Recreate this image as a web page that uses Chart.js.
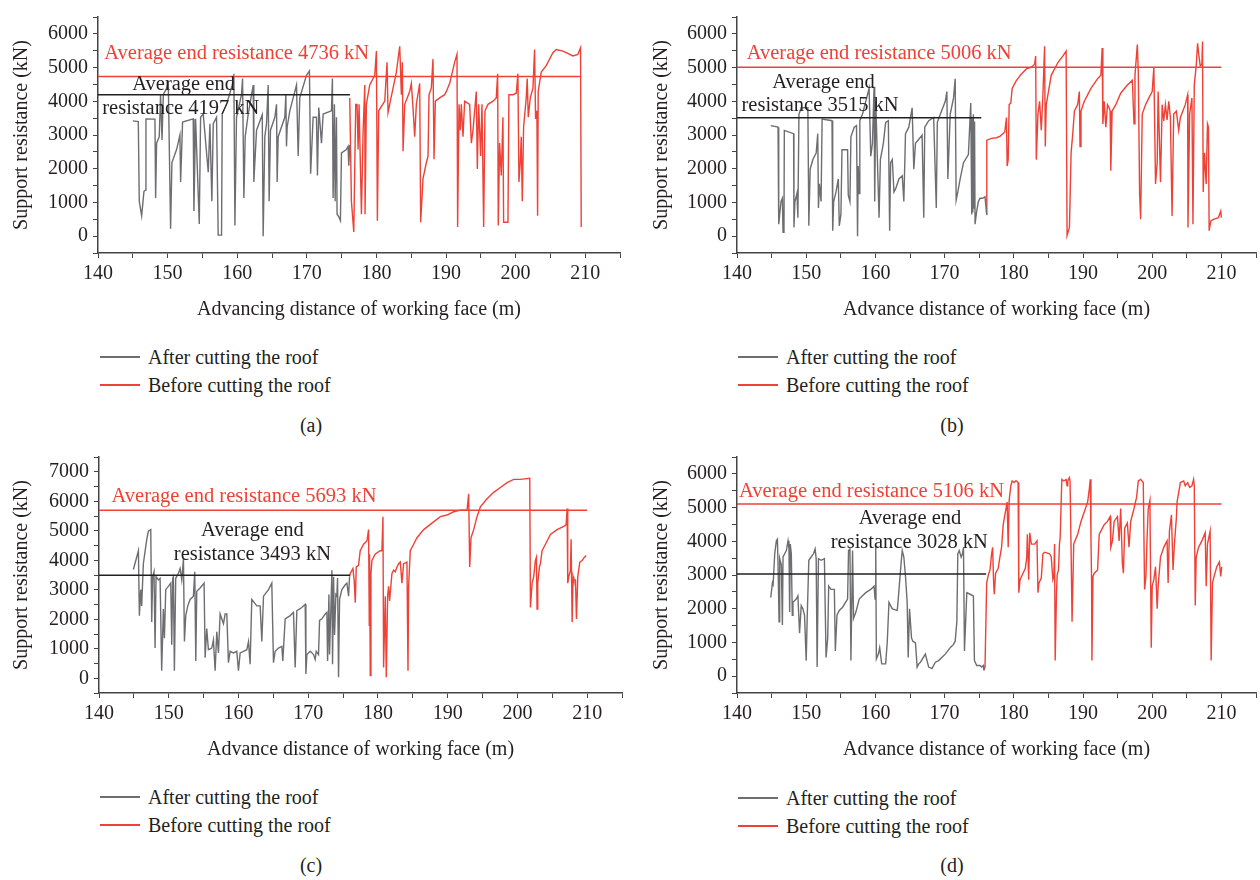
<!DOCTYPE html>
<html>
<head>
<meta charset="utf-8">
<script src="https://cdn.jsdelivr.net/npm/chart.js@4.4.1/dist/chart.umd.min.js"></script>
<style>
  body { margin: 0; background: #fff; width: 1260px; height: 880px; position: relative; overflow: hidden;
         font-family: "Liberation Serif", "DejaVu Serif", serif; color: #231f20; }
  .box { position: absolute; }
  .legend { position: absolute; font-size: 20px; }
  .legend div { position: relative; height: 28px; line-height: 28px; padding-left: 48px; white-space: nowrap; }
  .legend span { position: absolute; left: 0; top: 13px; width: 40px; height: 2px; }
  .after span { background: #6d6e71; }
  .before span { background: #ef4136; }
  .cap { position: absolute; font-size: 20px; line-height: 24px; transform: translateX(-50%); }
</style>
</head>
<body>

<div class="box" style="left:0;top:0;width:630px;height:330px"><canvas id="chartA"></canvas></div>
<div class="box" style="left:640px;top:0;width:620px;height:330px"><canvas id="chartB"></canvas></div>
<div class="box" style="left:0;top:440px;width:630px;height:330px"><canvas id="chartC"></canvas></div>
<div class="box" style="left:640px;top:440px;width:620px;height:330px"><canvas id="chartD"></canvas></div>

<div class="legend" style="left:100px;top:343px"><div class="after"><span></span>After cutting the roof</div><div class="before"><span></span>Before cutting the roof</div></div>
<div class="legend" style="left:738px;top:343px"><div class="after"><span></span>After cutting the roof</div><div class="before"><span></span>Before cutting the roof</div></div>
<div class="legend" style="left:100px;top:783px"><div class="after"><span></span>After cutting the roof</div><div class="before"><span></span>Before cutting the roof</div></div>
<div class="legend" style="left:738px;top:784px"><div class="after"><span></span>After cutting the roof</div><div class="before"><span></span>Before cutting the roof</div></div>

<div class="cap" style="left:311px;top:413px">(a)</div>
<div class="cap" style="left:952px;top:413px">(b)</div>
<div class="cap" style="left:311px;top:853px">(c)</div>
<div class="cap" style="left:952px;top:853px">(d)</div>

<script>
// support resistance [advance distance (m), resistance (kN)]
const aAfter = [[145.0,3420],[145.79,3400],[145.93,1035],[146.27,604],[146.6,1322],[146.84,1370],[146.89,3478],[148.18,3470],[148.28,1130],[148.42,2759],[148.8,2951],[148.99,4196],[149.2,2850],[149.38,4196],[149.86,4388],[150.1,4531],[150.43,220],[150.62,2184],[151.29,2567],[151.77,2999],[151.87,1609],[152.01,2472],[152.15,3382],[153.68,3478],[153.78,747],[154.02,3478],[154.55,364],[154.74,3525],[155.12,3621],[155.84,1897],[156.08,3334],[156.36,1035],[156.56,3334],[157.03,3525],[157.27,29],[157.75,29],[157.85,3621],[158.47,3909],[159.43,4579],[159.52,4819],[159.67,316],[159.9,3525],[160.62,4196],[160.77,4675],[160.96,1130],[161.15,2951],[161.58,3621],[162.3,4483],[162.39,1609],[162.78,3142],[163.6,3600],[163.73,0],[163.97,2951],[164.21,3334],[164.45,4483],[164.59,1035],[164.78,3142],[165.41,3525],[165.65,3909],[165.74,1609],[165.89,2951],[166.84,3525],[166.99,4196],[167.08,2663],[167.18,3238],[167.56,3717],[168.04,4100],[168.52,4483],[168.76,2376],[168.99,4100],[169.95,4771],[170.38,4900],[170.55,1850],[170.91,3525],[171.39,3525],[171.53,1801],[171.72,3813],[172.11,2759],[172.35,3621],[173.54,3717],[173.68,4675],[173.78,1130],[173.97,3909],[174.07,1035],[174.26,3525],[174.35,651],[174.64,556],[174.83,460],[174.98,2472],[175.69,2567],[175.93,2663],[176.03,2088],[176.17,2700]];
const aBefore = [[176.17,4100],[176.41,1035],[176.75,125],[177.03,3909],[177.22,3909],[177.37,2567],[177.51,3909],[177.85,651],[178.09,3100],[178.33,4483],[178.37,651],[178.56,3909],[179.04,4483],[179.76,4771],[180.0,5489],[180.14,460],[180.33,3717],[181.2,4004],[181.53,5154],[181.67,3669],[182.39,4388],[182.87,4867],[183.35,5633],[183.59,4196],[183.73,5154],[183.83,2520],[184.07,3909],[184.78,4292],[185.02,4531],[185.26,3813],[185.5,2951],[185.74,3909],[186.22,4531],[186.36,412],[186.7,1705],[187.18,2184],[187.42,2376],[187.56,4196],[187.89,4388],[188.13,5250],[188.28,2280],[188.47,4004],[189.09,4100],[189.81,4196],[190.05,4292],[190.53,4531],[191.24,5154],[191.58,5393],[191.67,268],[191.87,3909],[192.06,3142],[192.2,3909],[192.44,2951],[192.68,4004],[193.4,3909],[193.64,2759],[193.88,3142],[194.35,4292],[194.5,1993],[194.69,3909],[194.98,2376],[195.17,3909],[195.41,268],[195.6,3717],[196.03,3909],[196.75,4004],[197.22,4100],[197.42,4819],[197.51,316],[197.7,2759],[197.94,1801],[198.18,3525],[198.28,412],[198.9,412],[199.04,4196],[199.62,4196],[200.1,4240],[200.33,4819],[200.48,1609],[200.67,2184],[200.81,2951],[200.96,1035],[201.15,3238],[201.53,4100],[201.67,4675],[201.82,3525],[202.11,4100],[202.49,4388],[202.73,5537],[202.87,3478],[203.06,3717],[203.16,604],[203.25,4292],[203.68,4867],[204.4,5058],[205.36,5441],[205.84,5537],[206.79,5489],[207.27,5441],[208.23,5346],[208.95,5393],[209.33,5585],[209.43,268]];

const bAfter = [[144.88,3280],[145.93,3232],[146.03,355],[146.17,643],[146.36,1026],[146.56,1122],[146.65,115],[146.79,163],[146.84,3136],[148.18,3040],[148.23,259],[148.37,1026],[148.66,1266],[148.8,547],[148.95,3615],[149.28,3807],[150.24,3807],[150.38,307],[150.57,1985],[150.96,2273],[151.44,2465],[151.67,3040],[151.77,834],[151.91,1554],[152.15,1026],[152.3,3472],[153.73,3424],[153.83,163],[153.97,1026],[154.31,1310],[154.64,1697],[154.78,307],[155.02,643],[155.17,2561],[155.98,2561],[156.08,1218],[156.32,1026],[156.46,2944],[156.94,3232],[157.27,3280],[157.42,0],[157.51,2081],[157.66,1266],[157.75,3424],[158.13,3615],[158.61,3999],[159.09,4383],[159.33,2369],[159.57,2752],[159.81,4431],[159.9,1026],[160.05,3999],[160.53,547],[160.72,2273],[161.15,2752],[161.48,3376],[161.87,3424],[162.06,163],[162.2,2180],[162.44,2273],[162.68,1310],[162.92,1400],[163.4,1697],[163.88,1793],[164.11,1026],[164.35,3040],[164.83,3232],[165.31,3807],[165.55,1985],[165.79,2752],[166.75,2992],[166.99,547],[167.13,3232],[167.7,3424],[168.42,3520],[168.8,834],[168.95,3376],[169.38,3615],[170.1,3999],[170.33,4287],[170.47,1697],[170.81,3615],[171.29,4100],[171.53,4670],[171.67,1070],[171.91,1310],[172.25,1697],[172.73,2180],[173.44,2420],[173.78,3950],[173.92,640],[174.0,3500],[174.07,700],[174.16,3615],[174.26,830],[174.33,3400],[174.4,355],[174.64,740],[174.88,1026],[175.12,1122],[175.5,1122],[175.84,1170],[176.08,640]];
const bBefore = [[176.08,640],[176.1,2848],[176.79,2900],[177.5,2920],[177.98,2960],[178.7,3090],[178.94,3520],[179.04,2080],[179.19,2270],[179.33,3900],[179.57,3950],[179.76,4380],[180.38,4620],[181.1,4810],[181.82,4960],[182.54,5010],[183.01,5100],[183.16,5340],[183.25,2270],[183.49,3620],[183.73,4000],[183.97,3140],[184.21,4190],[184.45,5630],[184.55,2660],[184.69,3900],[185.41,4770],[186.37,5150],[187.08,5340],[187.56,5490],[187.7,20],[188.04,260],[188.28,2470],[188.52,3040],[188.76,3710],[189.0,3810],[189.23,3900],[189.47,4290],[189.57,2660],[189.71,3710],[190.19,4000],[191.15,4380],[192.11,4670],[192.58,4770],[192.77,5580],[192.87,3330],[193.06,4000],[193.3,3230],[193.54,3900],[193.78,3810],[193.92,3710],[194.02,1940],[194.21,3710],[194.74,3900],[195.45,4240],[196.41,4480],[197.13,4620],[197.37,3330],[197.51,4770],[197.85,5680],[197.99,4860],[198.18,1270],[198.33,500],[198.56,3620],[199.04,3900],[199.52,4100],[200.0,4290],[200.24,5010],[200.48,1550],[200.72,2180],[200.86,4290],[201.2,1600],[201.44,3900],[201.67,3420],[201.91,3900],[202.15,3450],[202.39,4000],[202.63,3520],[202.87,600],[203.11,3620],[203.49,3710],[203.83,3140],[204.07,3520],[204.78,3900],[205.12,4190],[205.17,260],[205.41,3620],[205.74,4100],[205.89,355],[206.08,4480],[206.36,5050],[206.56,5720],[206.7,5440],[206.94,5050],[207.18,5100],[207.27,5770],[207.37,1310],[207.56,2470],[207.8,1550],[207.99,3330],[208.13,3230],[208.23,160],[208.47,450],[208.85,500],[209.57,550],[209.9,740],[210.0,550]];

const cAfter = [[144.93,3685],[145.65,4323],[145.79,2123],[145.98,3003],[146.12,2453],[146.36,3883],[146.84,4700],[147.08,4983],[147.42,5038],[147.56,1903],[147.7,3443],[147.89,3608],[148.04,1023],[148.18,3443],[148.52,3333],[148.76,3388],[148.99,253],[149.23,2343],[149.38,1353],[149.57,3003],[149.95,3113],[150.29,3223],[150.43,1133],[150.57,3388],[150.67,3443],[150.81,253],[151.0,3388],[151.39,3553],[151.63,3718],[151.87,3333],[152.11,4048],[152.25,1243],[152.44,2123],[152.73,2453],[153.06,2673],[153.54,2783],[153.73,3608],[153.88,583],[154.02,2948],[154.5,3058],[155.07,3223],[155.22,693],[155.45,1683],[155.69,968],[156.17,1023],[156.41,1298],[156.65,253],[156.89,1573],[157.13,858],[157.37,2178],[157.85,1848],[158.09,2178],[158.33,2178],[158.56,528],[158.8,913],[159.28,858],[159.76,913],[160.0,253],[160.24,858],[160.72,913],[161.2,968],[161.44,1243],[161.67,473],[161.91,2673],[162.63,2453],[163.11,2453],[163.35,1243],[163.59,2783],[164.31,3003],[164.78,3223],[165.02,528],[165.26,913],[165.74,1023],[166.22,1078],[166.36,583],[166.7,2013],[167.42,2123],[167.89,2233],[168.13,363],[168.37,2288],[169.09,2398],[169.57,2508],[169.67,143],[169.81,803],[170.29,913],[170.77,803],[171.0,638],[171.15,913],[171.48,803],[171.63,1958],[171.96,2013],[172.44,2178],[172.68,2233],[172.78,583],[172.97,2838],[173.06,803],[173.25,2343],[173.4,3663],[173.49,473],[173.64,3443],[173.78,1463],[173.97,2838],[174.11,2783],[174.21,3400],[174.35,33],[174.5,2673],[174.83,3003],[175.31,3168],[175.55,3223],[175.79,2783],[175.93,3443]];
const cBefore = [[175.93,3443],[176.03,3553],[176.41,3718],[176.6,3300],[176.75,2563],[176.89,3773],[177.22,3828],[177.46,4323],[177.94,4543],[178.42,4653],[178.66,5038],[178.76,1793],[178.8,4200],[178.9,88],[179.0,3553],[179.14,3993],[179.62,4213],[180.33,4323],[180.57,4323],[180.72,5478],[180.81,363],[181.05,2783],[181.2,33],[181.39,2783],[181.53,3113],[181.67,2618],[182.01,3553],[182.25,3663],[182.49,3608],[182.73,3773],[182.97,3883],[183.21,3938],[183.44,3223],[183.68,3883],[184.16,3938],[184.31,253],[184.4,3113],[184.64,4323],[185.12,4543],[185.6,4763],[186.56,5038],[187.75,5258],[188.95,5478],[189.9,5533],[190.86,5643],[191.82,5698],[192.78,5698],[193.01,6248],[193.16,3773],[193.35,4763],[193.73,5038],[194.21,5478],[194.69,5808],[195.65,6083],[196.6,6303],[197.56,6468],[198.52,6633],[199.47,6743],[200.43,6743],[201.77,6776],[201.87,2398],[202.11,3223],[202.34,3443],[202.58,3993],[202.73,4103],[202.82,2343],[202.92,3223],[203.16,3773],[203.3,3883],[203.54,4323],[204.02,4543],[204.74,4873],[205.69,5038],[206.65,5148],[206.99,5203],[207.13,5753],[207.22,3223],[207.37,3443],[207.61,3663],[207.7,4708],[207.85,1903],[207.99,3443],[208.09,3333],[208.33,3333],[208.47,2013],[208.66,3443],[208.95,3938],[209.28,3993],[209.62,4103],[209.86,4158]];

const dAfter = [[144.88,2333],[145.12,2765],[145.22,2717],[145.45,3629],[145.69,4013],[145.84,4061],[145.93,3341],[146.08,1613],[146.17,3485],[146.41,3293],[146.56,1517],[146.65,3533],[146.89,3629],[147.13,3725],[147.37,4013],[147.51,3773],[147.61,1901],[147.7,3917],[147.85,3629],[147.99,1805],[148.09,2189],[148.56,2285],[148.8,2381],[149.04,1277],[149.28,2093],[149.52,1997],[149.76,1805],[150.0,461],[150.14,1709],[150.38,3437],[150.72,3533],[151.05,3629],[151.29,3773],[151.44,3485],[151.58,269],[151.77,3485],[152.15,3437],[152.63,3485],[152.87,557],[153.11,1133],[153.25,2669],[153.59,2573],[154.07,2573],[154.21,749],[154.45,1805],[154.78,1949],[155.26,2045],[155.98,2285],[156.12,3725],[156.32,3773],[156.46,461],[156.7,3725],[156.84,1709],[157.18,1901],[157.42,2093],[157.66,2285],[158.13,2381],[158.61,2477],[159.33,2573],[159.81,2669],[159.95,2285],[160.05,3821],[160.14,509],[160.43,653],[160.62,845],[160.91,365],[161.48,365],[161.72,1037],[161.96,2189],[162.44,1997],[163.16,1949],[163.3,2285],[163.73,3389],[163.88,3725],[164.11,3533],[164.35,2957],[164.59,2189],[164.74,557],[164.93,1997],[165.22,1133],[165.41,1037],[165.79,989],[166.03,269],[166.27,365],[166.51,413],[167.22,653],[167.7,269],[168.18,221],[168.66,413],[169.14,461],[169.62,557],[170.1,653],[170.81,845],[171.29,941],[171.53,1037],[171.77,1613],[171.91,3629],[172.11,3725],[172.39,3533],[172.58,3629],[172.73,3821],[172.87,749],[173.21,2477],[173.68,2429],[174.16,2381],[174.31,461],[174.64,317],[175.12,317],[175.36,269],[175.6,317],[175.69,173]];
const dBefore = [[175.69,173],[175.84,269],[176.08,2765],[176.32,3005],[176.56,3149],[176.79,3629],[176.94,3821],[177.08,2800],[177.18,2429],[177.37,3053],[177.75,3197],[177.99,3533],[178.23,3821],[178.47,4493],[178.71,4781],[179.04,5165],[179.19,3821],[179.33,5213],[179.57,5645],[179.76,5789],[180.05,5741],[180.24,5789],[180.38,5789],[180.62,5741],[180.72,2477],[180.91,2861],[181.34,3053],[181.67,3197],[181.87,3533],[181.96,4205],[182.15,2861],[182.3,4253],[182.54,3917],[183.01,3917],[183.35,4013],[183.49,2477],[183.64,2765],[183.97,2909],[184.21,3629],[184.45,3677],[185.17,3629],[185.41,3533],[185.65,2861],[185.79,2957],[185.89,3917],[185.98,461],[186.17,2477],[186.27,3005],[186.46,3149],[186.6,3917],[186.7,4109],[186.94,5837],[187.22,5789],[187.56,5837],[187.7,5645],[187.8,5789],[188.04,5885],[188.13,5789],[188.28,3725],[188.42,1613],[188.66,3917],[188.85,4013],[189.23,4205],[189.71,4589],[190.19,4877],[190.67,5165],[190.91,5549],[191.05,5837],[191.15,4109],[191.24,2861],[191.29,461],[191.44,2957],[191.63,3053],[192.11,3149],[192.34,4205],[192.58,4301],[193.06,4493],[193.54,4589],[193.92,4733],[194.02,3821],[194.26,4013],[194.5,4589],[194.98,4733],[195.22,4013],[195.45,4973],[195.69,3341],[195.84,3053],[196.03,4397],[196.41,4541],[196.65,3821],[196.89,4589],[197.37,4973],[197.75,5309],[197.99,5789],[198.33,5837],[198.71,5741],[198.8,5741],[198.9,2573],[199.09,2957],[199.28,4205],[199.43,4973],[199.67,5213],[199.86,845],[200.0,2669],[200.24,2861],[200.48,3245],[200.72,1997],[200.86,2669],[201.2,3533],[201.67,3821],[202.15,4013],[202.3,2765],[202.49,4301],[202.78,4781],[203.01,3149],[203.21,3917],[203.35,4301],[203.49,4685],[203.59,5165],[203.83,5453],[204.07,5741],[204.55,5789],[204.78,5645],[205.12,5741],[205.41,5600],[205.74,5645],[205.98,5837],[206.08,5645],[206.22,2093],[206.36,3533],[206.7,3821],[207.18,4013],[207.66,4253],[207.8,2669],[207.99,3917],[208.37,4301],[208.52,461],[208.71,2765],[208.95,2957],[209.33,3245],[209.71,3389],[209.9,2957],[210.05,3245]];

// average end resistance (kN): [after cutting, before cutting]
const aAvg = [4197, 4736];
const bAvg = [3515, 5006];
const cAvg = [3493, 5693];
const dAvg = [3028, 5106];
// last advance distance each average line reaches
const aAvgEnd = [176.2, 209.4];
const bAvgEnd = [175.3, 210];
const cAvgEnd = [176, 210];
const dAvgEnd = [176, 210];

const xTicks = [140, 150, 160, 170, 180, 190, 200, 210];

const GRAY = '#6d6e71';
const RED = '#ef4136';
const INK = '#231f20';
const FONT = '"Liberation Serif", "DejaVu Serif", serif';

// writes the average-resistance notes inside the plot
const notePlugin = {
  id: 'notes',
  afterDatasetsDraw(chart, args, opts) {
    const { ctx, scales: { x, y } } = chart;
    ctx.save();
    ctx.font = '20.5px ' + FONT;
    ctx.textBaseline = 'alphabetic';
    for (const n of opts.items) {
      ctx.fillStyle = n.color;
      ctx.textAlign = n.align;
      ctx.fillText(n.text, x.getPixelForValue(n.x), y.getPixelForValue(n.y));
    }
    ctx.restore();
  }
};

const pts = arr => arr.map(p => ({ x: p[0], y: p[1] }));

function makeChart(id, p) {
  const notes = [
    { text: 'Average end resistance ' + p.avg[1] + ' kN', x: p.redAt[0], y: p.redAt[1], color: RED, align: 'left' },
    { text: 'Average end', x: p.blackAt[0], y: p.blackAt[1], color: INK, align: 'center' },
    { text: 'resistance ' + p.avg[0] + ' kN', x: p.blackAt[2], y: p.blackAt[3], color: INK, align: 'center' }
  ];
  const line = (data, color, w) => ({
    data, borderColor: color, borderWidth: w, pointRadius: 0, tension: 0, fill: false
  });
  return new Chart(document.getElementById(id), {
    type: 'line',
    data: {
      datasets: [
        line([{ x: 140, y: p.avg[0] }, { x: p.avgEnd[0], y: p.avg[0] }], INK, 1.5),
        line([{ x: 140, y: p.avg[1] }, { x: p.avgEnd[1], y: p.avg[1] }], RED, 1.5),
        line(pts(p.after), GRAY, 1.4),
        line(pts(p.before), RED, 1.4)
      ]
    },
    options: {
      responsive: true,
      maintainAspectRatio: false,
      animation: false,
      layout: { padding: { top: p.top, right: p.right, left: 0, bottom: 0 } },
      plugins: { legend: { display: false }, tooltip: { enabled: false }, notes: { items: notes } },
      scales: {
        x: {
          type: 'linear', min: 140, max: 215,
          border: { display: true, color: '#444', width: 1.5 },
          grid: { drawOnChartArea: false, drawTicks: true, tickLength: 5, tickColor: '#444' },
          ticks: {
            stepSize: 5, autoSkip: false, maxRotation: 0, padding: 4, color: INK,
            font: { family: FONT, size: 20 },
            callback: v => xTicks.includes(v) ? String(v) : ''
          },
          title: { display: true, text: p.xTitle, color: INK, font: { family: FONT, size: 20 }, padding: { top: 0, bottom: 8 } },
          afterFit: s => { s.height = 77; }
        },
        y: {
          min: -500, max: p.yMax,
          border: { display: true, color: '#444', width: 1.5 },
          grid: { drawOnChartArea: false, drawTicks: true, tickLength: 5, tickColor: '#444' },
          ticks: {
            stepSize: 500, autoSkip: false, padding: 5, color: INK,
            font: { family: FONT, size: 20 },
            callback: v => (v >= 0 && v % 1000 === 0 && v < p.yMax) ? String(v) : ''
          },
          title: { display: true, text: 'Support resistance (kN)', color: INK, font: { family: FONT, size: 20 }, padding: { top: 10, bottom: 0 } },
          afterFit: s => { s.width = p.yWidth; }
        }
      }
    },
    plugins: [notePlugin]
  });
}

makeChart('chartA', {
  after: aAfter, before: aBefore, avg: aAvg, avgEnd: aAvgEnd, yMax: 6500,
  xTitle: 'Advancing distance of working face (m)',
  redAt: [140.9, 5259], blackAt: [152.3, 4339, 151.9, 3621],
  top: 10, right: 10, yWidth: 98
});
makeChart('chartB', {
  after: bAfter, before: bBefore, avg: bAvg, avgEnd: bAvgEnd, yMax: 6500,
  xTitle: 'Advance distance of working face (m)',
  redAt: [141.4, 5259], blackAt: [152.5, 4397, 152.0, 3707],
  top: 10, right: 2, yWidth: 97
});
makeChart('chartC', {
  after: cAfter, before: cBefore, avg: cAvg, avgEnd: cAvgEnd, yMax: 7500,
  xTitle: 'Advance distance of working face (m)',
  redAt: [141.8, 5973], blackAt: [162.0, 4818, 162.0, 3993],
  top: 11, right: 8, yWidth: 99
});
makeChart('chartD', {
  after: dAfter, before: dBefore, avg: dAvg, avgEnd: dAvgEnd, yMax: 6500,
  xTitle: 'Advance distance of working face (m)',
  redAt: [140.3, 5309], blackAt: [165.0, 4502, 164.9, 3800],
  top: 11, right: 2, yWidth: 97
});
</script>
</body>
</html>
